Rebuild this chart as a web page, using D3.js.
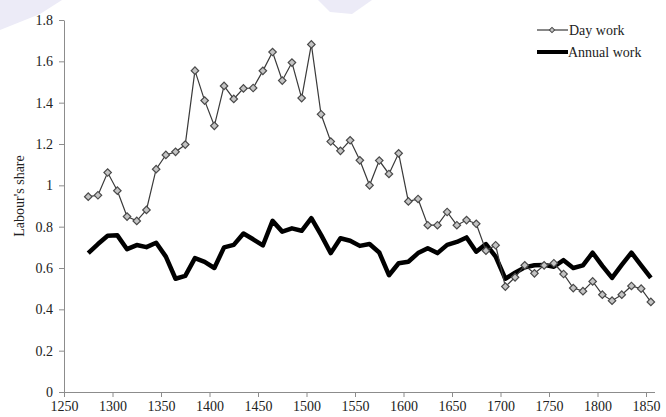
<!DOCTYPE html>
<html>
<head>
<meta charset="utf-8">
<script src="https://cdn.jsdelivr.net/npm/d3@7/dist/d3.min.js"></script>
<style>
  html, body { margin: 0; padding: 0; background: #fff; }
  svg { display: block; }
  text { font-family: "Liberation Serif", "DejaVu Serif", serif; fill: #222; }
</style>
</head>
<body>
<svg id="chart" width="666" height="417"></svg>
<script>
// Decade midpoints covered by both series
const years = d3.range(1275, 1856, 10);

// Labour's share, day work (decadal)
const dayWork = [
  0.945, 0.952, 1.062, 0.974, 0.849, 0.828, 0.881, 1.078, 1.147, 1.162,
  1.197, 1.555, 1.410, 1.288, 1.481, 1.418, 1.469, 1.471, 1.554, 1.645,
  1.507, 1.594, 1.422, 1.682, 1.344, 1.212, 1.167, 1.218, 1.121, 1.000,
  1.120, 1.055, 1.155, 0.922, 0.934, 0.807, 0.807, 0.871, 0.807, 0.832,
  0.814, 0.684, 0.710, 0.510, 0.555, 0.613, 0.574, 0.613, 0.623, 0.571,
  0.503, 0.488, 0.535, 0.471, 0.442, 0.471, 0.513, 0.500, 0.436
];

// Labour's share, annual work (decadal)
const annualWork = [
  0.672, 0.716, 0.756, 0.758, 0.691, 0.711, 0.701, 0.722, 0.655, 0.548,
  0.562, 0.648, 0.630, 0.600, 0.700, 0.712, 0.767, 0.739, 0.709, 0.828,
  0.776, 0.792, 0.780, 0.841, 0.760, 0.672, 0.744, 0.732, 0.707, 0.716,
  0.675, 0.565, 0.623, 0.630, 0.672, 0.696, 0.672, 0.712, 0.726, 0.748,
  0.679, 0.716, 0.655, 0.548, 0.577, 0.603, 0.613, 0.615, 0.606, 0.638,
  0.600, 0.613, 0.674, 0.610, 0.552, 0.615, 0.674, 0.613, 0.552
];

const xTicks = d3.range(1250, 1851, 50);
const yTicks = [0, 0.2, 0.4, 0.6, 0.8, 1, 1.2, 1.4, 1.6, 1.8];
const seriesNames = ["Day work", "Annual work"];

const svg = d3.select("#chart");

// faint decorative shapes along the top edge
svg.append("path").attr("d", "M0,0 L62,0 L40,14 L0,30 Z").attr("fill", "#ecebf7");
svg.append("path").attr("d", "M318,0 L372,0 L352,14 L330,12 Z").attr("fill", "#ecebf7");

const x = d3.scaleLinear().domain([1250, 1850]).range([64, 646]);
const y = d3.scaleLinear().domain([0, 1.8]).range([392, 20]);

// axes
const xAxis = svg.append("g")
  .attr("transform", `translate(0,${y(0)})`)
  .call(d3.axisBottom(x).tickValues(xTicks).tickFormat(d3.format("d")).tickSize(5).tickSizeOuter(0).tickPadding(4));
xAxis.select(".domain").attr("stroke", "#8c8c8c").attr("d", `M${x(1250)},0.5H${x(1850) + 9}`);
xAxis.selectAll(".tick line").attr("stroke", "#8c8c8c");
xAxis.selectAll("text").style("font-size", "14px").attr("fill", "#222");

const yAxis = svg.append("g")
  .attr("transform", `translate(${x(1250)},0)`)
  .call(d3.axisLeft(y).tickValues(yTicks).tickFormat(d => d3.format("")(d)).tickSize(5).tickSizeOuter(0).tickPadding(6));
yAxis.select(".domain").attr("stroke", "#8c8c8c");
yAxis.selectAll(".tick line").attr("stroke", "#8c8c8c");
yAxis.selectAll("text").style("font-size", "14px").attr("fill", "#222");

svg.append("text")
  .attr("transform", "translate(24,196) rotate(-90)")
  .attr("text-anchor", "middle")
  .style("font-size", "14px")
  .text("Labour's share");

// annual work: heavy black line
const annualLine = d3.line().x((d, i) => x(years[i])).y(d => y(d));
svg.append("path")
  .datum(annualWork)
  .attr("fill", "none")
  .attr("stroke", "#000")
  .attr("stroke-width", 4.5)
  .attr("stroke-linejoin", "round")
  .attr("d", annualLine);

// day work: thin line with diamond markers
const dayLine = d3.line().x((d, i) => x(years[i])).y(d => y(d));
svg.append("path")
  .datum(dayWork)
  .attr("fill", "none")
  .attr("stroke", "#3a3a3a")
  .attr("stroke-width", 1.2)
  .attr("d", dayLine);

const diamond = d3.symbol().type(d3.symbolSquare).size(28);
svg.append("g").selectAll("path")
  .data(dayWork)
  .join("path")
  .attr("d", diamond)
  .attr("transform", (d, i) => `translate(${x(years[i])},${y(d)}) rotate(45)`)
  .attr("fill", "#c4c4c4")
  .attr("stroke", "#4a4a4a")
  .attr("stroke-width", 1.2);

// legend
const lg = svg.append("g");
lg.append("line").attr("x1", 537).attr("x2", 568).attr("y1", 30).attr("y2", 30)
  .attr("stroke", "#3a3a3a").attr("stroke-width", 1.2);
lg.append("path").attr("d", d3.symbol().type(d3.symbolSquare).size(14))
  .attr("transform", "translate(552,30) rotate(45)")
  .attr("fill", "#c4c4c4").attr("stroke", "#4a4a4a").attr("stroke-width", 1);
lg.append("text").attr("x", 569).attr("y", 34.5).style("font-size", "14px").text(seriesNames[0]);
lg.append("line").attr("x1", 537).attr("x2", 568).attr("y1", 52).attr("y2", 52)
  .attr("stroke", "#000").attr("stroke-width", 4);
lg.append("text").attr("x", 568).attr("y", 56.5).style("font-size", "14px").text(seriesNames[1]);
</script>
</body>
</html>
